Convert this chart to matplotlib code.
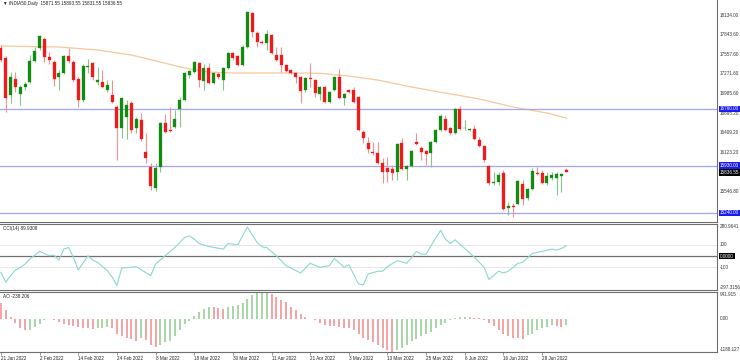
import matplotlib
matplotlib.use("Agg")
import matplotlib.pyplot as plt
import matplotlib.transforms as mtransforms
import numpy as np


# INDIA50 daily candles
opens = [
    17652, 17505, 16964, 17198, 16979, 17081, 17154, 17461, 17652, 17783,
    17520, 17447, 17227, 17286, 17534, 17447, 17198, 16891, 17374, 17432,
    17154, 17154, 17037, 16964, 16789, 16482, 16642, 16847, 16482, 16599,
    16131, 15911, 15605, 15911, 16555, 16452, 16496, 16759, 16891, 17257,
    17300, 17432, 17169, 17359, 17140, 17271, 17183, 17359, 17578, 17534,
    17403, 17666, 18163, 17871, 17739, 17725, 17842, 17549, 17549, 17403,
    17330, 17286, 17227, 17037, 17213, 17183, 16979, 17081, 16862, 17037,
    17227, 16920, 17037, 17037, 16935, 16423, 16262, 16131, 16116, 15970,
    15897, 15882, 15838, 16262, 15882, 15926, 16277, 16189, 16145, 16116,
    16277, 16452, 16613, 16482, 16409, 16759, 16475, 16452, 16467, 16306,
    16219, 15926, 15678, 15692, 15824, 15312, 15341, 15371, 15663, 15458,
    15590, 15824, 15824, 15678, 15751, 15751, 15780, 15871.55,
]
highs = [
    17695, 17534, 17300, 17300, 17110, 17154, 17549, 17666, 17842, 17812,
    17593, 17476, 17330, 17549, 17652, 17476, 17227, 17418, 17491, 17447,
    17374, 17330, 17183, 17183, 16818, 16935, 16891, 16876, 16642, 16701,
    16409, 15970, 15970, 16569, 16686, 16789, 16745, 16935, 17300, 17330,
    17461, 17447, 17418, 17432, 17300, 17300, 17374, 17593, 17593, 17549,
    17695, 18192, 18178, 17900, 17768, 17915, 17856, 17666, 17666, 17418,
    17344, 17300, 17242, 17227, 17432, 17198, 17096, 17096, 17023, 17242,
    17344, 16993, 17052, 17081, 16950, 16452, 16350, 16277, 16277, 16043,
    16058, 15941, 16262, 16335, 15941, 16160, 16409, 16219, 16160, 16292,
    16467, 16686, 16672, 16496, 16774, 16803, 16599, 16482, 16525, 16350,
    16233, 15941, 15838, 15838, 15868, 15400, 15385, 15721, 15721, 15605,
    15897, 15911, 15868, 15838, 15838, 15838, 15824, 15893.55,
]
lows = [
    17447, 16716, 16847, 17008, 16818, 17037, 17140, 17447, 17622, 17447,
    17418, 17096, 17037, 17271, 17432, 17154, 16789, 16862, 17286, 17183,
    17110, 17066, 17008, 16847, 16014, 16335, 16321, 16409, 16409, 16292,
    15970, 15575, 15561, 15838, 16409, 16423, 16482, 16496, 16876, 17213,
    17286, 17081, 17037, 17125, 17125, 17198, 17037, 17344, 17476, 17388,
    17388, 17652, 17812, 17666, 17710, 17622, 17564, 17461, 17300, 17300,
    17271, 17140, 16847, 17008, 17081, 16935, 16891, 16847, 16847, 17023,
    16906, 16818, 16993, 16847, 16438, 16262, 16116, 16087, 15955, 15678,
    15692, 15721, 15721, 15868, 15721, 15911, 16233, 16014, 15941, 15911,
    16262, 16438, 16438, 16379, 16394, 16452, 16452, 16438, 16306, 16204,
    15985, 15648, 15648, 15648, 15283, 15210, 15181, 15356, 15356, 15429,
    15575, 15795, 15663, 15648, 15721, 15502, 15546, 15831.55,
]
closes = [
    17476, 16920, 17227, 17081, 17081, 17125, 17461, 17608, 17827, 17520,
    17476, 17198, 17286, 17534, 17461, 17183, 16891, 17388, 17388, 17227,
    17183, 17081, 17110, 16862, 16482, 16920, 16818, 16452, 16613, 16321,
    16043, 15634, 15897, 16555, 16423, 16438, 16613, 16891, 17286, 17315,
    17447, 17183, 17359, 17140, 17286, 17227, 17359, 17578, 17505, 17403,
    17666, 18178, 17885, 17739, 17725, 17856, 17578, 17476, 17403, 17315,
    17286, 17227, 17023, 17213, 17198, 16993, 17081, 16862, 17008, 17227,
    16920, 16979, 17008, 16862, 16452, 16335, 16175, 16116, 15970, 15838,
    15838, 15824, 16248, 15882, 15926, 16145, 16248, 16131, 16102, 16277,
    16452, 16657, 16452, 16409, 16759, 16467, 16482, 16467, 16321, 16219,
    16014, 15678, 15692, 15795, 15298, 15341, 15327, 15707, 15444, 15590,
    15853, 15809, 15678, 15780, 15795, 15809, 15809, 15836.55,
]

# slow moving average, sampled at a few bars
ma_bars = [0, 12, 20, 27, 33, 38, 43, 48, 60, 66, 72, 78, 85, 92, 99, 106, 113, 117]
ma_values = [17681, 17666, 17622, 17549, 17447, 17359, 17300, 17286, 17286, 17282,
             17242, 17183, 17081, 16993, 16906, 16789, 16701, 16628]

levels = [16760.00, 15930.00, 15240.00]
price_ticks = [18134.00, 17843.60, 17557.60, 17271.60, 16985.60,
               16695.20, 16409.20, 16123.20, 15546.80]
price_range = (15107.7, 18353.3)

# CCI(14)
cci_bars = [0, 1, 2, 3, 4, 5, 6, 8, 10, 11, 12, 13, 14, 15, 16, 18, 19, 20, 22, 23,
            24, 25, 27, 28, 31, 32, 34, 36, 37, 38, 39, 40, 41, 43, 46, 47, 49, 51, 53, 54,
            55, 57, 59, 62, 64, 66, 68, 69, 71, 72, 74, 75, 76, 78, 79, 80, 82, 84, 86, 87,
            88, 89, 91, 92, 93, 94, 95, 98, 100, 101, 103, 104, 105, 107, 108, 110, 111, 112, 114, 115,
            116, 117]
cci_values = [-142, -229, -171, -122, -98, -70, -26, 41, 3, 8, -35, 61, 75, -11, -122, 3, -35, -55, -128, -183,
              -258, -104, -98, -93, -171, -70, 3, 75, 119, 163, 177, 148, 110, 84, 61, 110, 98, 255, 119, 81,
              75, 3, -84, -148, -64, -98, -84, -20, -98, -76, -244, -252, -157, -133, -133, -93, -41, -64, 41, 17,
              17, 90, 226, 148, 110, 142, 104, -11, -98, -206, -133, -148, -133, -64, -55, 23, 32, 41, 61, 52,
              67, 89.9308]
cci_range = (-297.3156, 280.9641)

# Awesome Oscillator, one value per bar
ao_values = [
    555, 295, 40, -155, -350, -415, -390, -285, -180, -60,
    -30, -40, -120, -195, -220, -260, -310, -325, -350, -375,
    -350, -325, -310, -350, -545, -635, -675, -740, -805, -675,
    -765, -935, -1000, -935, -850, -805, -610, -390, -195, -90,
    100, 230, 330, 425, 400, 385, 330, 425, 450, 490,
    555, 710, 840, 905, 915, 940, 880, 750, 645, 580,
    425, 295, 165, 40, -10, -65, -155, -220, -260, -265,
    -285, -325, -350, -415, -545, -675, -765, -840, -935, -1035,
    -1125, -1188, -1125, -1035, -935, -805, -740, -635, -545, -480,
    -350, -220, -155, -65, 20, 40, 45, 40, 35, 25,
    -60, -155, -265, -415, -545, -635, -675, -700, -715, -580,
    -545, -415, -350, -285, -245, -265, -285, -238.206,
]
ao_range = (-1188.127, 941.915)

date_labels = ["21 Jan 2022", "2 Feb 2022", "14 Feb 2022", "24 Feb 2022", "8 Mar 2022",
               "18 Mar 2022", "30 Mar 2022", "11 Apr 2022", "21 Apr 2022", "3 May 2022",
               "13 May 2022", "25 May 2022", "6 Jun 2022", "16 Jun 2022", "28 Jun 2022"]
label_step = 8

BULL = "#118c11"
BEAR = "#f01a1a"
BULL_WICK = "#86c686"
BEAR_WICK = "#f29090"
FRAME = "#6e6e6e"
FS = 3.3

plt.rcParams["font.family"] = ["Liberation Sans", "DejaVu Sans"]

W, H = 740, 360
fig = plt.figure(figsize=(W / 100, H / 100), dpi=100)


def panel(top, bottom, right=717, sharex=None):
    return fig.add_axes([0, 1 - bottom / H, right / W, (bottom - top) / H], sharex=sharex)


ax = panel(0, 222)
ax_cci = panel(224, 290, sharex=ax)
ax_ao = panel(292, 352, sharex=ax)

idx = np.arange(len(closes))
o = np.array(opens, dtype=float)
c = np.array(closes, dtype=float)
up = c >= o

# wicks then bodies
ax.vlines(idx[up], np.array(lows)[up], np.array(highs)[up], color=BULL_WICK, lw=0.8, zorder=2)
ax.vlines(idx[~up], np.array(lows)[~up], np.array(highs)[~up], color=BEAR_WICK, lw=0.8, zorder=2)
body_h = np.maximum(np.abs(c - o), 6)
body_colors = np.where(up, BULL, BEAR)
ax.bar(idx, body_h, bottom=np.minimum(o, c), width=0.62, color=body_colors,
       edgecolor=body_colors, linewidth=0.2, zorder=3)

ax.plot(ma_bars, ma_values, color="#f6c79a", lw=0.9, zorder=1)
for lv in levels:
    ax.axhline(lv, color="#a4a4f0", lw=0.9, zorder=1)

ax.set_ylim(*price_range)
ax.set_xlim(-0.2, 148.2)

blend = mtransforms.blended_transform_factory


def right_label(axis, y, text, va="center", box=None):
    kw = dict(transform=blend(axis.transAxes, axis.transData), fontsize=FS,
              ha="left", va=va, color="#333333")
    if box:
        kw.update(color="white", bbox=dict(boxstyle="square,pad=0.2", fc=box, ec="none"))
    axis.text(1.004, y, text, **kw)


for t in price_ticks:
    right_label(ax, t, f"{t:.2f}")
for lv in levels:
    right_label(ax, lv, f"{lv:.2f}", box="#1c1cf0")
right_label(ax, closes[-1], f"{closes[-1]:.2f}", box="#000000")

ax.text(0.004, 0.986, "\u25bc INDIA50,Daily  15871.55 15893.55 15831.55 15836.55",
        transform=ax.transAxes, fontsize=FS, va="center", ha="left", color="#222222")

# CCI panel
ax_cci.axhline(100, color="#e2e2e2", lw=0.6)
ax_cci.axhline(-100, color="#e2e2e2", lw=0.6)
ax_cci.axhline(0, color="#707070", lw=0.9)
ax_cci.plot(cci_bars, cci_values, color="#8ad8d0", lw=0.8)
ax_cci.set_ylim(*cci_range)
right_label(ax_cci, cci_range[1], f"{cci_range[1]:.4f}", va="top")
right_label(ax_cci, 100, "100")
right_label(ax_cci, 0, "0.0000", box="#000000")
right_label(ax_cci, -100, "-100")
right_label(ax_cci, cci_range[0], f"{cci_range[0]:.4f}", va="bottom")
ax_cci.text(0.004, 0.97, "CCI(14) 89.9308", transform=ax_cci.transAxes,
            fontsize=FS, va="top", ha="left", color="#222222")

# AO panel
ao = np.array(ao_values, dtype=float)
rising = np.concatenate([[False], np.diff(ao) > 0])
ao_colors = np.where(rising, "#8fcb8f", "#f28a8a")
ax_ao.vlines(idx, 0, ao, colors=ao_colors, lw=1.1)
ax_ao.set_ylim(*ao_range)
right_label(ax_ao, ao_range[1], f"{ao_range[1]:.3f}", va="top")
right_label(ax_ao, 0, "0.00")
right_label(ax_ao, ao_range[0], f"{ao_range[0]:.3f}", va="bottom")
ax_ao.text(0.004, 0.965, "AO -238.206", transform=ax_ao.transAxes,
           fontsize=FS, va="top", ha="left", color="#222222")

# frames / ticks
for a in (ax, ax_cci, ax_ao):
    a.spines["left"].set_visible(False)
    for side in ("right", "bottom", "top"):
        a.spines[side].set_color(FRAME)
        a.spines[side].set_linewidth(0.8)
    a.set_yticks([])
    a.tick_params(axis="x", labelbottom=False, length=0)
ax.spines["top"].set_visible(False)

ax_ao.set_xticks(np.arange(len(date_labels)) * label_step)
ax_ao.set_xticklabels(date_labels)
ax_ao.tick_params(axis="x", labelbottom=True, length=2, width=0.5, color=FRAME,
                  labelsize=FS, pad=1, labelcolor="#222222")
for lbl in ax_ao.get_xticklabels():
    lbl.set_horizontalalignment("left")

fig.savefig("out.png", dpi=100, facecolor="white")
